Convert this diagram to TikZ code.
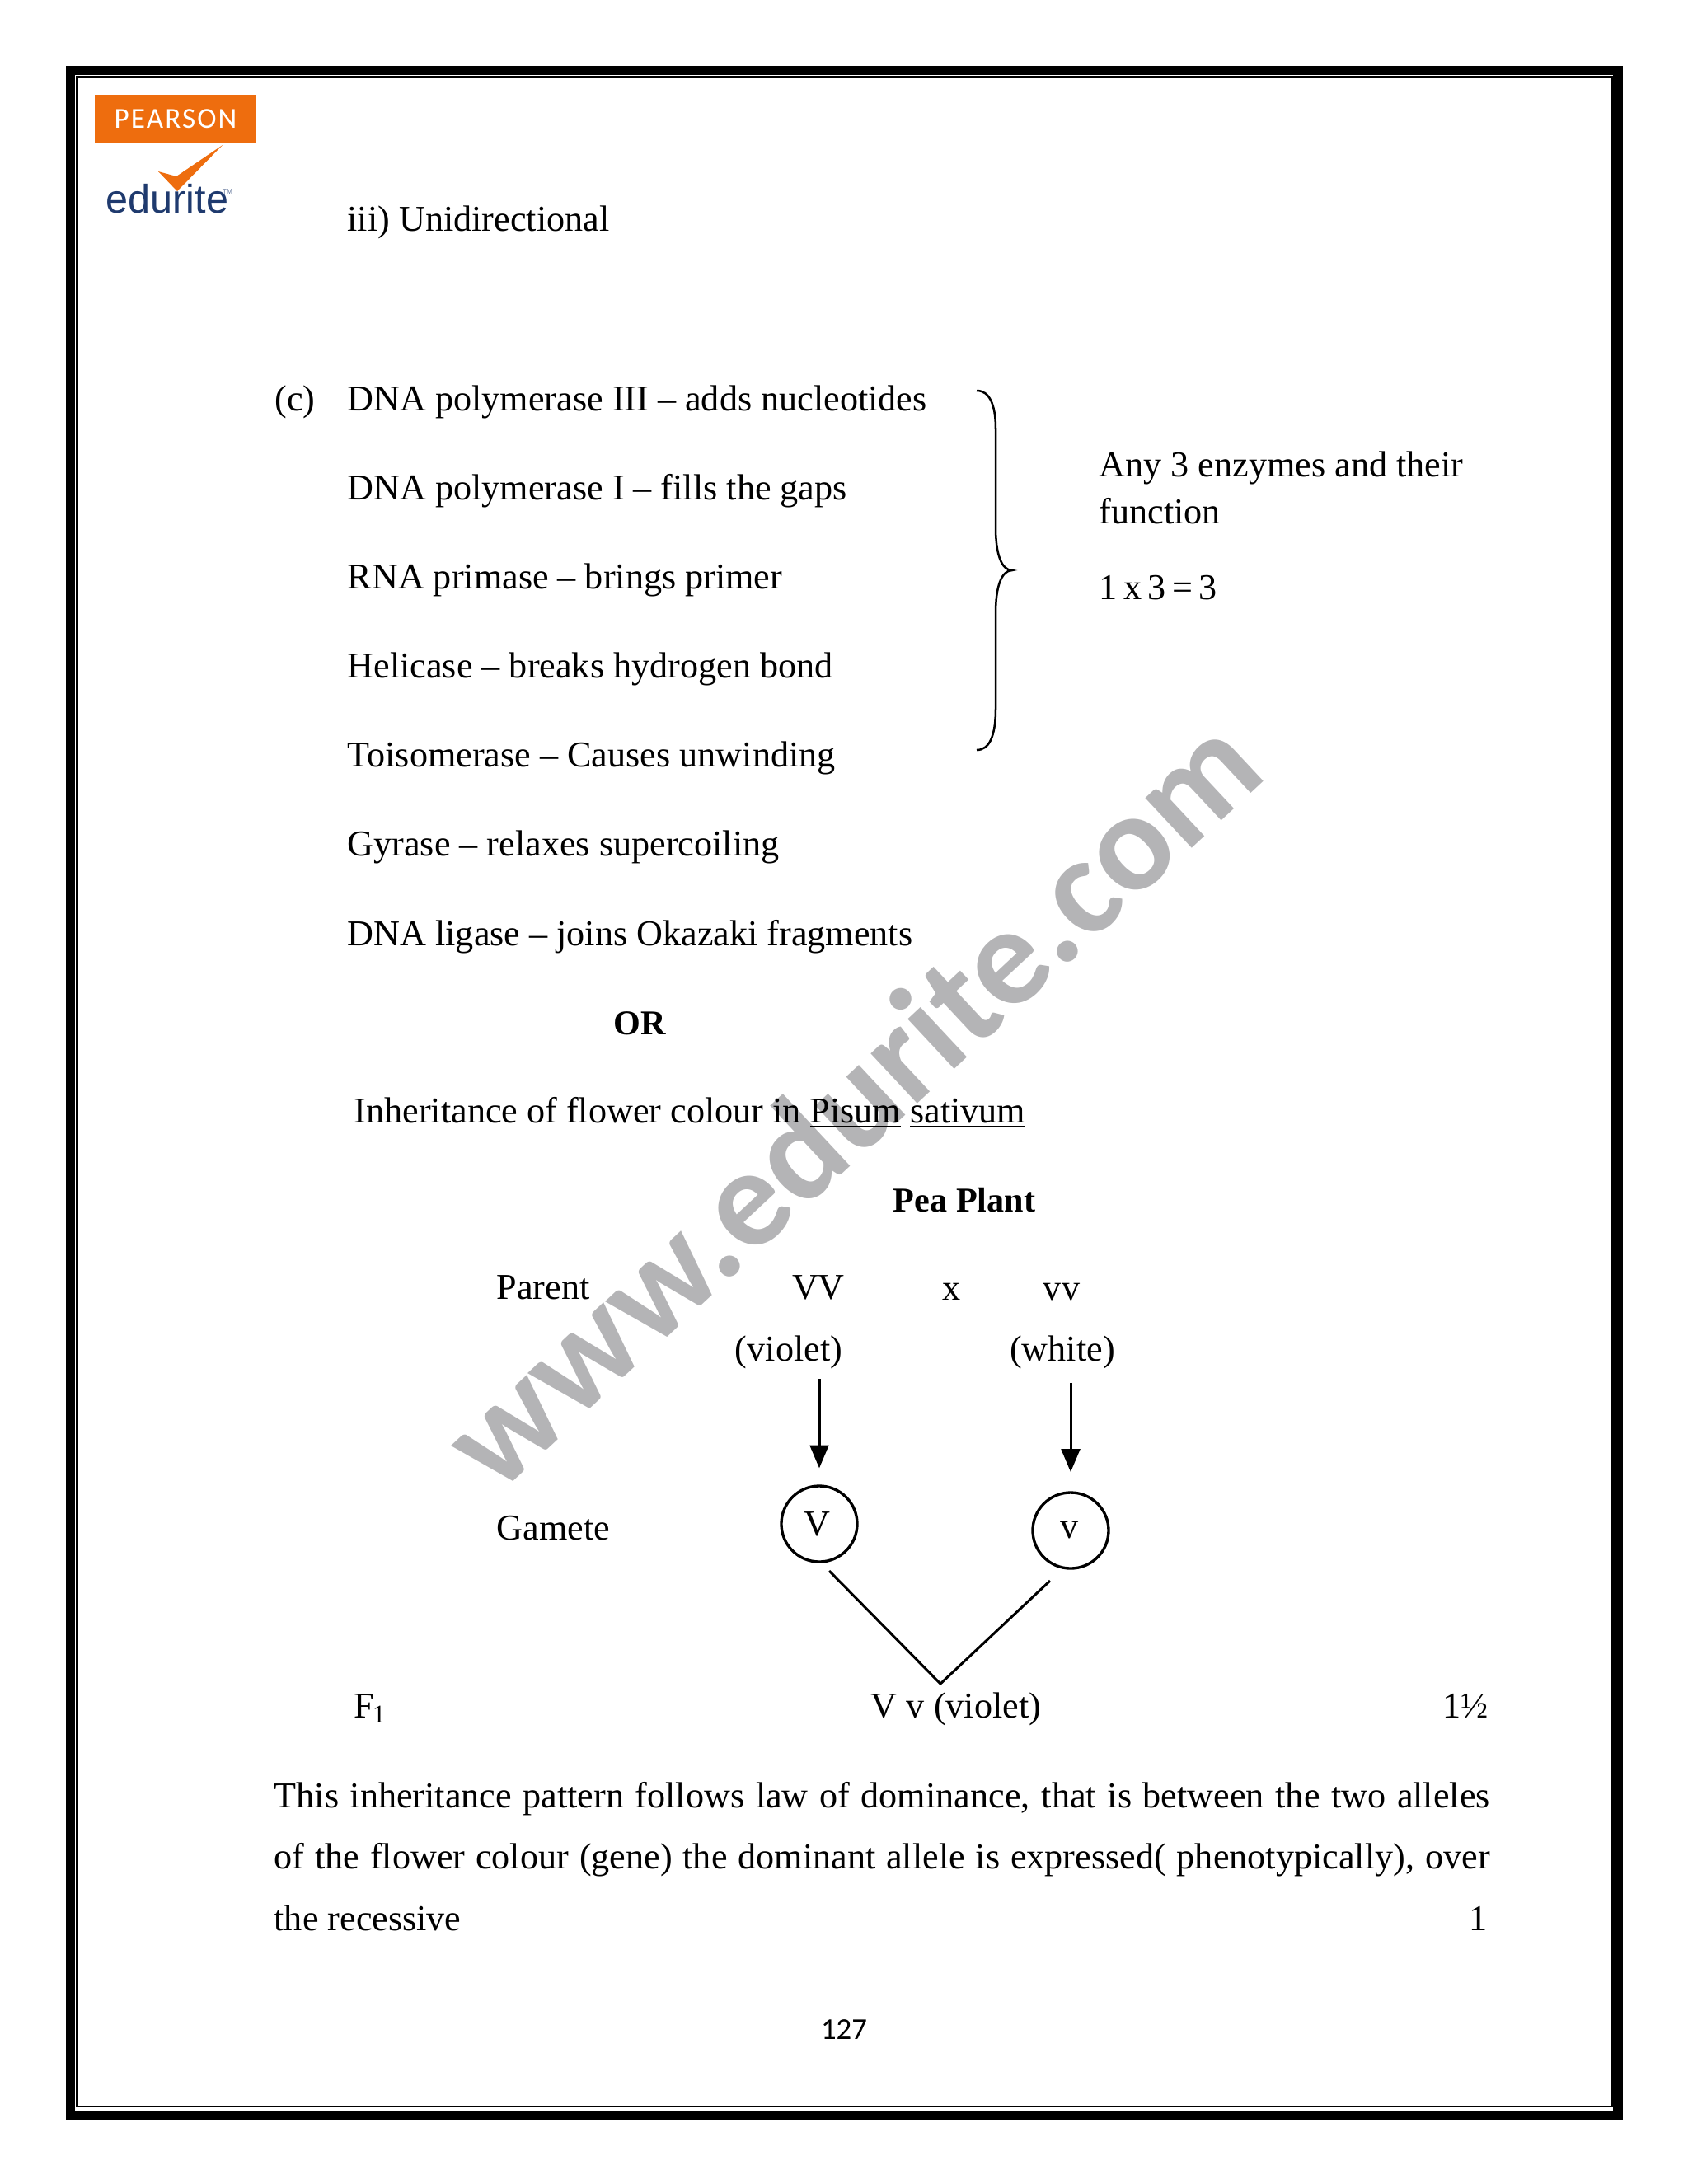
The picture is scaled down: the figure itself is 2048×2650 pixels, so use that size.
\documentclass[tikz,border=0pt]{standalone}
\usepackage{fontspec}
\setmainfont{Liberation Serif}
\newfontfamily\wmfont{Carlito}
\newfontfamily\logofont{Liberation Sans}
\usepackage{tikz}
\usetikzlibrary{arrows,positioning}
\definecolor{pearsonorange}{HTML}{EE6D0E}
\definecolor{edunavy}{HTML}{1F3A6E}
\definecolor{wmgray}{HTML}{B4B4B6}
\newcommand{\fullline}[1]{\makebox[440.8pt][s]{#1}}
\tikzset{
  txt/.style={inner sep=0pt,anchor=base west,font=\fontsize{13.2}{16}\selectfont},
  ctr/.style={txt,anchor=base},
  rgt/.style={txt,anchor=base east},
  bold/.style={ctr,font=\fontsize{12.6}{16}\selectfont\bfseries},
  gamete/.style={circle,draw,line width=1pt,minimum size=27.5pt,inner sep=0pt,font=\fontsize{13.2}{16}\selectfont}
}
\begin{document}
\begin{tikzpicture}[x=0.298828pt,y=-0.298828pt,>=triangle 45,node distance=32.33pt]
      \useasboundingbox (0,0) rectangle (2048,2650);
      \draw[line width=3.3pt] (85.5,85.5) rectangle (1963,2566);
      \draw[line width=0.75pt] (93.5,93.5) rectangle (1955.5,2556);
      \node (mark) [rotate=43,text=wmgray,font=\wmfont\fontsize{51}{51}\selectfont\bfseries,inner sep=0pt] at (1031,1335) {www.edurite.com};

      \node (pearson) [fill=pearsonorange,text=white,minimum width=58.6pt,minimum height=17.3pt,inner sep=0pt,font=\wmfont\fontsize{10.5}{12}\selectfont\addfontfeature{LetterSpace=6}] at (213,144) {PEARSON};
      \fill[pearsonorange] (192,208) -- (214,214) -- (270,176) -- (215,232) -- cycle;
      \node (edurite) [text=edunavy,inner sep=0pt,font=\logofont\fontsize{14.5}{16}\selectfont] at (203,241) {edurite};
      \node (tm) [text=edunavy!70,inner sep=0pt,font=\logofont\fontsize{2.5}{3}\selectfont] at (276,233) {TM};

      \node (uni) [txt] at (421,280) {iii) Unidirectional};
      \node (partc) [txt] at (333,498) {(c)};
      \node (polthree) [txt] at (421,498) {DNA polymerase III -- adds nucleotides};
      \node (polone) [txt,below=of polthree.base west,anchor=base west] {DNA polymerase I -- fills the gaps};
      \node (primase) [txt,below=of polone.base west,anchor=base west] {RNA primase -- brings primer};
      \node (helicase) [txt,below=of primase.base west,anchor=base west] {Helicase -- breaks hydrogen bond};
      \node (topo) [txt,below=of helicase.base west,anchor=base west] {Toisomerase -- Causes unwinding};
      \node (gyrase) [txt,below=of topo.base west,anchor=base west] {Gyrase -- relaxes supercoiling};
      \node (ligase) [txt,below=of gyrase.base west,anchor=base west] {DNA ligase -- joins Okazaki fragments};
      \node (or) [bold] at (776,1255) {OR};
      \node (inherit) [txt] at (429,1362) {Inheritance of flower colour in \underline{Pisum} \underline{sativum}};
      \node (pea) [bold] at (1170,1470) {Pea Plant};

      \draw[line width=0.75pt] (1185,474) .. controls (1200,474) and (1208,490) .. (1208,520)
        -- (1208,640) .. controls (1208,672) and (1215,692) .. (1228,692)
        .. controls (1215,692) and (1208,712) .. (1208,744)
        -- (1208,860) .. controls (1208,894) and (1200,910) .. (1185,910);
      \node (any) [txt] at (1333,578) {Any 3 enzymes and their};
      \node (func) [txt] at (1333,635) {function};
      \node (marks) [txt] at (1333,727) {1\,x\,3\,=\,3};

      \node (parent) [txt] at (602,1576) {Parent};
      \node (VV) [ctr] at (993,1576) {VV};
      \node (cross) [ctr] at (1155,1577) {x};
      \node (vv) [ctr] at (1288,1577) {vv};
      \node (violet) [ctr] at (957,1651) {(violet)};
      \node (white) [ctr] at (1289,1651) {(white)};
      \node (gam) [txt] at (602,1868) {Gamete};
      \node (Vg) [gamete] at (994,1849) {\raisebox{-1pt}{\kern-1.5pt V}};
      \node (vg) [gamete] at (1299,1857) {\kern-.6pt v};
      \draw[->,xshift=-1pt,line width=0.9pt,shorten <=3.6pt,shorten >=6pt] (violet.south -| Vg.north) -- (Vg.north);
      \draw[->,xshift=-1pt,line width=0.9pt,shorten <=5pt,shorten >=7pt] (white.south -| vg.north) -- (vg.north);

      \coordinate (Vend) at (1006,1906);
      \coordinate (vend) at (1274,1918);
      \coordinate (join) at (1141,2043);
      \draw[line width=0.9pt] (Vend) -- (join) -- (vend);

      \node (f) [txt] at (429,2084) {F\kern-.6pt\textsubscript{1}};
      \node (Vv) [ctr] at (1160,2084) {V v (violet)};
      \node (half) [rgt] at (1806,2084) {1½};

      \node (parone) [txt] at (332,2193) {\fullline{This inheritance pattern follows law of dominance, that is between the two alleles}};
      \node (partwo) [txt] at (332,2267) {\fullline{of the flower colour (gene) the dominant allele is expressed( phenotypically), over}};
      \node (parthree) [txt] at (332,2342) {the recessive};
      \node (one) [rgt] at (1805,2342) {1};
      \node (page) [inner sep=0pt,anchor=base,font=\wmfont\fontsize{11}{13}\selectfont] at (1024,2474) {127};
    \end{tikzpicture}
\end{document}
